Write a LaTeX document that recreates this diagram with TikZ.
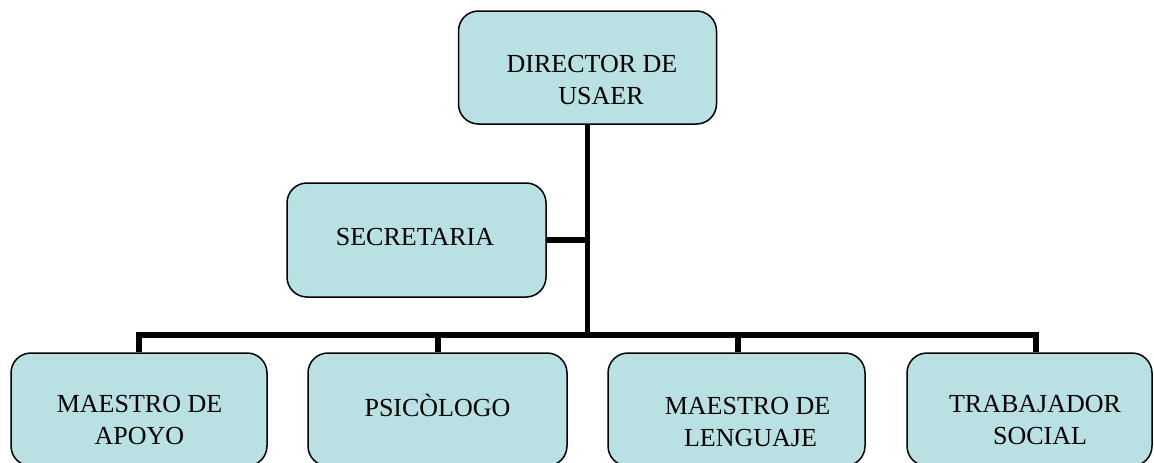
\documentclass[tikz,border=0pt]{standalone}
\usepackage{fontspec}
\setmainfont{Liberation Serif}
\definecolor{boxfill}{HTML}{B9E0E3}
\begin{document}
\begin{tikzpicture}[x=1pt,y=-1pt,
  orgbox/.style={draw=black, line width=1.5pt, fill=boxfill, rounded corners=20pt, inner sep=0pt},
  lbl/.style={inner sep=0pt, font=\fontsize{26}{32}\selectfont, align=center},
  conn/.style={draw=black, line width=5.5pt}]
\useasboundingbox (0,0) rectangle (1154,463);
% boxes
\node[orgbox, minimum width=258pt, minimum height=113pt] (dir) at (587.5,67.5) {};
\node[orgbox, minimum width=259pt, minimum height=114pt] (sec) at (416.5,240) {};
\node[orgbox, minimum width=256pt, minimum height=113pt] (b1) at (139,409.5) {};
\node[orgbox, minimum width=259pt, minimum height=113pt] (b2) at (437.5,409.5) {};
\node[orgbox, minimum width=257pt, minimum height=113pt] (b3) at (736.5,409.5) {};
\node[orgbox, minimum width=245pt, minimum height=113pt] (b4) at (1029.5,409.5) {};
% texts
\node[lbl, anchor=north] (tdir) at (592,54.9) {DIRECTOR DE\\\hspace*{18pt}USAER};
\node[lbl, anchor=base] (tsec) at (415,245) {SECRETARIA};
\node[lbl, anchor=north] (tb1) at (139.5,395.4) {MAESTRO DE\\APOYO};
\node[lbl, anchor=base] (tb2) at (437.5,416) {PSICÒLOGO};
\node[lbl, anchor=north] (tb3) at (747.5,396.9) {MAESTRO DE\\\hspace*{6pt}LENGUAJE};
\node[lbl, anchor=north] (tb4) at (1035,395.4) {TRABAJADOR\\\hspace*{10pt}SOCIAL};
% connectors
\coordinate (jb) at (587.5,335);
\draw[conn] (dir.south) -- (jb);
\draw[conn] (sec.east) -- (sec.east -| jb);
\draw[conn] (b1.north) |- (jb) -| ([xshift=6.5pt]b4.north);
\draw[conn] ([xshift=0.5pt]b2.north) -- ([xshift=0.5pt]b2.north |- jb);
\draw[conn] ([xshift=1.5pt]b3.north) -- ([xshift=1.5pt]b3.north |- jb);
\end{tikzpicture}
\end{document}
